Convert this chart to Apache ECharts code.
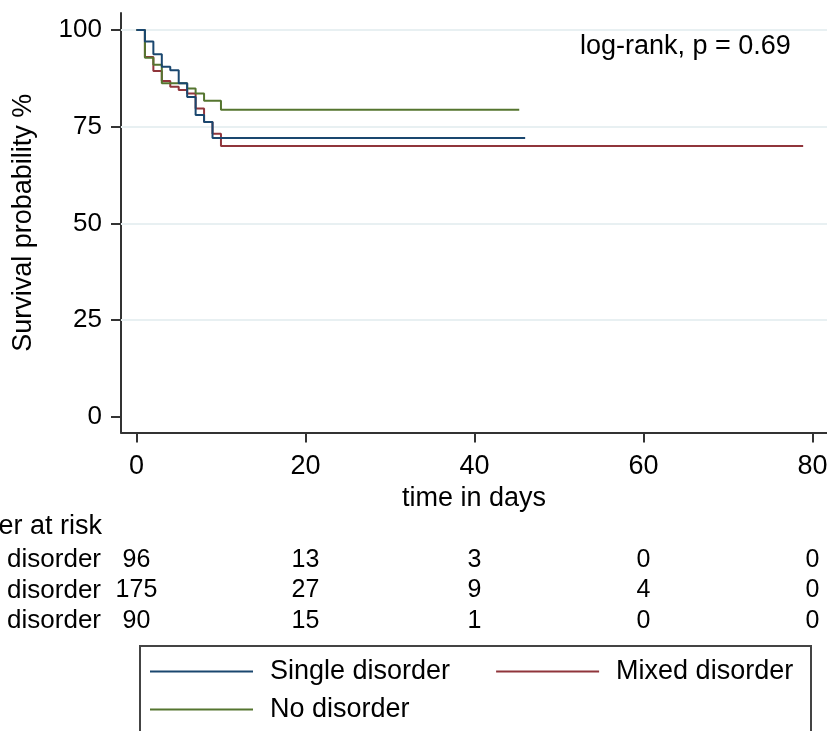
<!DOCTYPE html>
<html>
<head>
<meta charset="utf-8">
<script src="https://cdn.jsdelivr.net/npm/echarts@6/dist/echarts.min.js"></script>
<style>
html,body{margin:0;padding:0;background:#fff;}
#chart{width:827px;height:731px;}
</style>
</head>
<body>
<div id="chart"></div>
<script>
// ---- data ----
const seriesNames = ['Single disorder', 'Mixed disorder', 'No disorder'];

const singleTimes = [0, 1, 2, 3, 4, 5, 6, 7, 8, 9, 46.0];
const singleSurv  = [100, 97.0, 93.7, 90.5, 89.6, 86.2, 82.7, 78.0, 76.2, 72.1, 72.1];

const mixedTimes = [0, 1, 2, 3, 4, 5, 6, 7, 8, 9, 10, 78.9];
const mixedSurv  = [100, 93.0, 89.4, 86.8, 85.3, 84.5, 83.6, 79.7, 76.2, 73.2, 70.0, 70.0];

const noneTimes = [0, 1, 2, 3, 6, 7, 8, 10, 45.3];
const noneSurv  = [100, 92.8, 91.0, 86.2, 84.9, 83.6, 81.7, 79.4, 79.4];

const xTicks = [0, 20, 40, 60, 80];
const yTicks = [0, 25, 50, 75, 100];
const gridLineValues = [25, 50, 75, 100];

const riskTimes  = [0, 20, 40, 60, 80];
const riskSingle = [96, 13, 3, 0, 0];
const riskMixed  = [175, 27, 9, 4, 0];
const riskNone   = [90, 15, 1, 0, 0];

const pValueText = 'log-rank, p = 0.69';
const riskTitle = 'Number at risk';
const xName = 'time in days';
const yName = 'Survival probability %';

// ---- styling ----
const FONT = '"Liberation Sans", Arial, sans-serif';
const colors = ['#1a476f', '#90353b', '#55752f'];
const axisColor = '#333333';

const zip = (a, b) => a.map((v, i) => [v, b[i]]);
const curves = [zip(singleTimes, singleSurv), zip(mixedTimes, mixedSurv), zip(noneTimes, noneSurv)];
const riskRows = [riskSingle, riskMixed, riskNone];
const riskData = [];
riskRows.forEach((row, r) => row.forEach((n, i) => riskData.push([riskTimes[i], r, n])));

const X_MIN = -1.83, X_MAX = 81.72;

const chart = echarts.init(document.getElementById('chart'), null, {renderer: 'canvas'});

const lineSeries = curves.map((d, i) => ({
  name: seriesNames[i],
  type: 'line',
  xAxisIndex: 0, yAxisIndex: 0,
  step: 'end',
  data: d,
  showSymbol: false,
  symbol: 'none',
  color: colors[i],
  lineStyle: {color: colors[i], width: 2},
  z: 3 + (i === 0 ? 1 : 0),
  markLine: i === 0 ? {
    silent: true,
    symbol: 'none',
    label: {show: false},
    lineStyle: {color: '#e8f0f2', width: 2, type: 'solid'},
    data: gridLineValues.map(v => ({yAxis: v})),
    z: 1
  } : undefined
}));

const option = {
  animation: false,
  backgroundColor: '#ffffff',
  textStyle: {fontFamily: FONT},
  grid: [
    {left: 121, right: 0, top: 13, bottom: 298.5, outerBoundsMode: 'none', containLabel: false},
    {left: 121, right: 0, top: 544.75, bottom: 94.75, outerBoundsMode: 'none', containLabel: false}
  ],
  xAxis: [
    {
      type: 'value', gridIndex: 0, min: X_MIN, max: X_MAX,
      name: xName, nameLocation: 'middle', nameGap: 43,
      nameTextStyle: {fontSize: 27, color: '#000', fontFamily: FONT},
      axisLine: {show: true, onZero: false, lineStyle: {color: axisColor, width: 2}},
      axisTick: {show: true, length: 10, lineStyle: {color: axisColor, width: 2}, customValues: xTicks},
      axisLabel: {fontSize: 27, color: '#000', margin: 21, fontFamily: FONT, customValues: xTicks},
      splitLine: {show: false}
    },
    {
      type: 'value', gridIndex: 1, min: X_MIN, max: X_MAX,
      axisLine: {show: false, onZero: false}, axisTick: {show: false},
      axisLabel: {show: false}, splitLine: {show: false}
    }
  ],
  yAxis: [
    {
      type: 'value', gridIndex: 0, min: -4.09, max: 104.4,
      name: yName, nameLocation: 'middle', nameGap: 84,
      nameTextStyle: {fontSize: 27, color: '#000', fontFamily: FONT},
      axisLine: {show: true, onZero: false, lineStyle: {color: axisColor, width: 2}},
      axisTick: {show: true, length: 10, lineStyle: {color: axisColor, width: 2}, customValues: yTicks},
      axisLabel: {fontSize: 26, color: '#000', margin: 19, fontFamily: FONT, customValues: yTicks},
      splitLine: {show: false}
    },
    {
      type: 'category', gridIndex: 1, data: seriesNames, inverse: true,
      axisLine: {show: false, onZero: false}, axisTick: {show: false}, splitLine: {show: false},
      axisLabel: {fontSize: 26, color: '#000', margin: 20, fontFamily: FONT, interval: 0, hideOverlap: false}
    }
  ],
  legend: [
    {
      data: [seriesNames[0], seriesNames[1]],
      left: 150, top: 658, padding: 0,
      icon: 'rect', itemWidth: 103, itemHeight: 2, itemGap: 46,
      textStyle: {fontSize: 27, color: '#000', fontFamily: FONT, padding: [0, 0, 0, 12]},
      selectedMode: false
    },
    {
      data: [seriesNames[2]],
      left: 150, top: 696, padding: 0,
      icon: 'rect', itemWidth: 103, itemHeight: 2,
      textStyle: {fontSize: 27, color: '#000', fontFamily: FONT, padding: [0, 0, 0, 12]},
      selectedMode: false
    }
  ],
  graphic: [
    {
      type: 'text', x: 580, y: 47,
      style: {text: pValueText, font: '27px ' + FONT, fill: '#000', verticalAlign: 'middle', align: 'left'}
    },
    {
      type: 'text', x: 102, y: 527,
      style: {text: riskTitle, font: '27px ' + FONT, fill: '#000', verticalAlign: 'middle', align: 'right'}
    },
    {
      type: 'rect', shape: {x: 140, y: 646, width: 671, height: 110},
      style: {fill: 'none', stroke: '#444', lineWidth: 2}, silent: true
    }
  ],
  series: [
    ...lineSeries,
    {
      name: 'risk',
      type: 'scatter',
      xAxisIndex: 1, yAxisIndex: 1,
      data: riskData,
      symbolSize: 1,
      itemStyle: {color: 'rgba(0,0,0,0)'},
      label: {
        show: true, position: 'inside', fontSize: 25, color: '#000', fontFamily: FONT,
        textBorderWidth: 0, textShadowBlur: 0, opacity: 1,
        formatter: p => String(p.value[2])
      },
      emphasis: {disabled: true},
      labelLayout: {hideOverlap: false}
    }
  ]
};

chart.setOption(option);
</script>
</body>
</html>
